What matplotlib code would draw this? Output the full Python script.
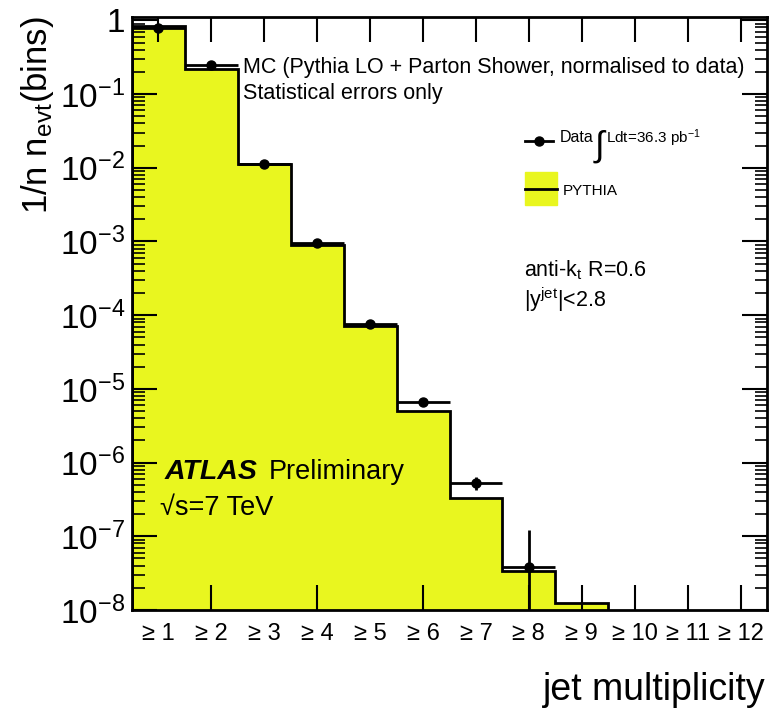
import numpy as np
import matplotlib
matplotlib.use("Agg")
import matplotlib.pyplot as plt
from matplotlib.ticker import FixedLocator, LogLocator, NullFormatter

plt.rcParams['font.family'] = ['Liberation Sans', 'DejaVu Sans']
plt.rcParams['mathtext.fontset'] = 'custom'
plt.rcParams['mathtext.rm'] = 'Liberation Sans'
plt.rcParams['mathtext.it'] = 'Liberation Sans:italic'
plt.rcParams['mathtext.bf'] = 'Liberation Sans:bold'

# inclusive jet multiplicity, normalised to number of events
n_jets = np.arange(1, 13)
bin_labels = ["\u2265 %d" % n for n in n_jets]
mc_pythia = [0.845, 0.216, 0.0114, 8.9e-4, 7.2e-5, 5.0e-6, 3.35e-7, 3.4e-8, 1.24e-8, 0, 0, 0]
data_mult = [1, 2, 3, 4, 5, 6, 7, 8]
data_vals = [0.79, 0.245, 0.0114, 9.4e-4, 7.7e-5, 6.65e-6, 5.3e-7, 3.8e-8]
data_errs = [0.004, 0.002, 1.5e-4, 2.0e-5, 2.5e-6, 3.0e-7, 1.1e-7, 8.5e-8]
y_decades = [1, 1e-1, 1e-2, 1e-3, 1e-4, 1e-5, 1e-6, 1e-7, 1e-8]
y_labels = ["1"] + [r"$\mathdefault{10^{-%d}}$" % k for k in range(1, 9)]
bottom_tick_bins = [2, 4, 6, 8, 9, 10, 11, 12]

YELLOW = "#e9f61f"
FLOOR = 1e-12
W, H = 777, 711


def fx(px):
    return px / W


def fy(py):
    return 1 - py / H


fig = plt.figure(figsize=(W / 100, H / 100), dpi=100)
ax = fig.add_axes([fx(132), fy(610), (767 - 132) / W, (610 - 17) / H])

edges = np.append(n_jets - 0.5, n_jets[-1] + 0.5)
mc = np.array(mc_pythia, dtype=float)
mc_plot = np.where(mc > 0, mc, FLOOR)
ax.stairs(mc_plot, edges, baseline=FLOOR, fill=True, color=YELLOW, zorder=1)
ax.stairs(mc_plot, edges, baseline=FLOOR, color="black", lw=2, zorder=2)

dv = np.array(data_vals)
de = np.array(data_errs)
lo = np.where(dv - de > 0, de, dv - FLOOR)
ax.errorbar(data_mult, dv, xerr=0.5, yerr=[lo, de], fmt="o", color="black",
            ms=6.5, elinewidth=2, capsize=0, zorder=3)

ax.set_yscale("log")
ax.set_xlim(0.5, 12.5)
ax.set_ylim(1e-8, 1.11)

ax.set_xticks(n_jets)
ax.set_xticklabels(bin_labels)
ax.tick_params(axis="x", which="major", direction="in", length=18, width=1.5,
               top=True, bottom=True, labelsize=17, pad=9)
for n, tick in zip(n_jets, ax.xaxis.get_major_ticks()):
    tick.tick1line.set_visible(n in bottom_tick_bins)
ax.xaxis.set_minor_locator(FixedLocator([]))

ax.yaxis.set_major_locator(FixedLocator(y_decades))
ax.set_yticklabels(y_labels)
ax.yaxis.set_minor_locator(LogLocator(base=10, subs=np.arange(2, 10), numticks=30))
ax.yaxis.set_minor_formatter(NullFormatter())
ax.tick_params(axis="y", which="major", direction="in", length=18, width=1.5,
               left=True, right=True, labelsize=24, pad=5)
ax.tick_params(axis="y", which="minor", direction="in", length=9, width=1.2,
               left=True, right=True)
for sp in ax.spines.values():
    sp.set_linewidth(2)

# axis titles, ROOT style: y at the top, x at the right
fig.text(fx(38), fy(16), r"1/n n$_{\mathrm{evt}}$(bins)", rotation=90,
         ha="center", va="top", fontsize=25)
fig.text(fx(766), fy(690), "jet multiplicity", ha="right", va="center", fontsize=27)

fig.text(fx(243), fy(68), "MC (Pythia LO + Parton Shower, normalised to data)",
         ha="left", va="center", fontsize=15.5)
fig.text(fx(243), fy(93), "Statistical errors only", ha="left", va="center", fontsize=15.5)

# legend drawn by hand
ax.plot([fx(525), fx(553)], [fy(141), fy(141)], color="black", lw=2,
        transform=fig.transFigure, clip_on=False, zorder=5)
ax.plot([fx(539)], [fy(141)], "o", color="black", ms=6.5,
        transform=fig.transFigure, clip_on=False, zorder=5)
fig.text(fx(560), fy(138), "Data", ha="left", va="center", fontsize=11.5)
fig.text(fx(595), fy(146), "\u222b", ha="left", va="center", fontsize=25)
fig.text(fx(606), fy(138), r"Ldt=36.3 pb$^{-1}$", ha="left", va="center", fontsize=11)
ax.add_patch(plt.Rectangle((fx(525), fy(205)), fx(557) - fx(525), fy(172) - fy(205),
                           transform=fig.transFigure, color=YELLOW,
                           clip_on=False, zorder=4))
ax.plot([fx(525), fx(557)], [fy(189), fy(189)], color="black", lw=2,
        transform=fig.transFigure, clip_on=False, zorder=5)
fig.text(fx(563), fy(191), "PYTHIA", ha="left", va="center", fontsize=11)

fig.text(fx(524), fy(270), r"anti-k$_{\mathrm{t}}$ R=0.6", ha="left", va="center", fontsize=15.5)
fig.text(fx(524), fy(300), r"|y$^{\mathrm{jet}}$|<2.8", ha="left", va="center", fontsize=15.5)

fig.text(fx(165), fy(472), "ATLAS", ha="left", va="center", fontsize=20.5,
         fontweight="bold", fontstyle="italic")
fig.text(fx(269), fy(472), "Preliminary", ha="left", va="center", fontsize=19.5)
fig.text(fx(160), fy(508), "\u221as=7 TeV", ha="left", va="center", fontsize=19.5)

fig.savefig("out.png", dpi=100)
